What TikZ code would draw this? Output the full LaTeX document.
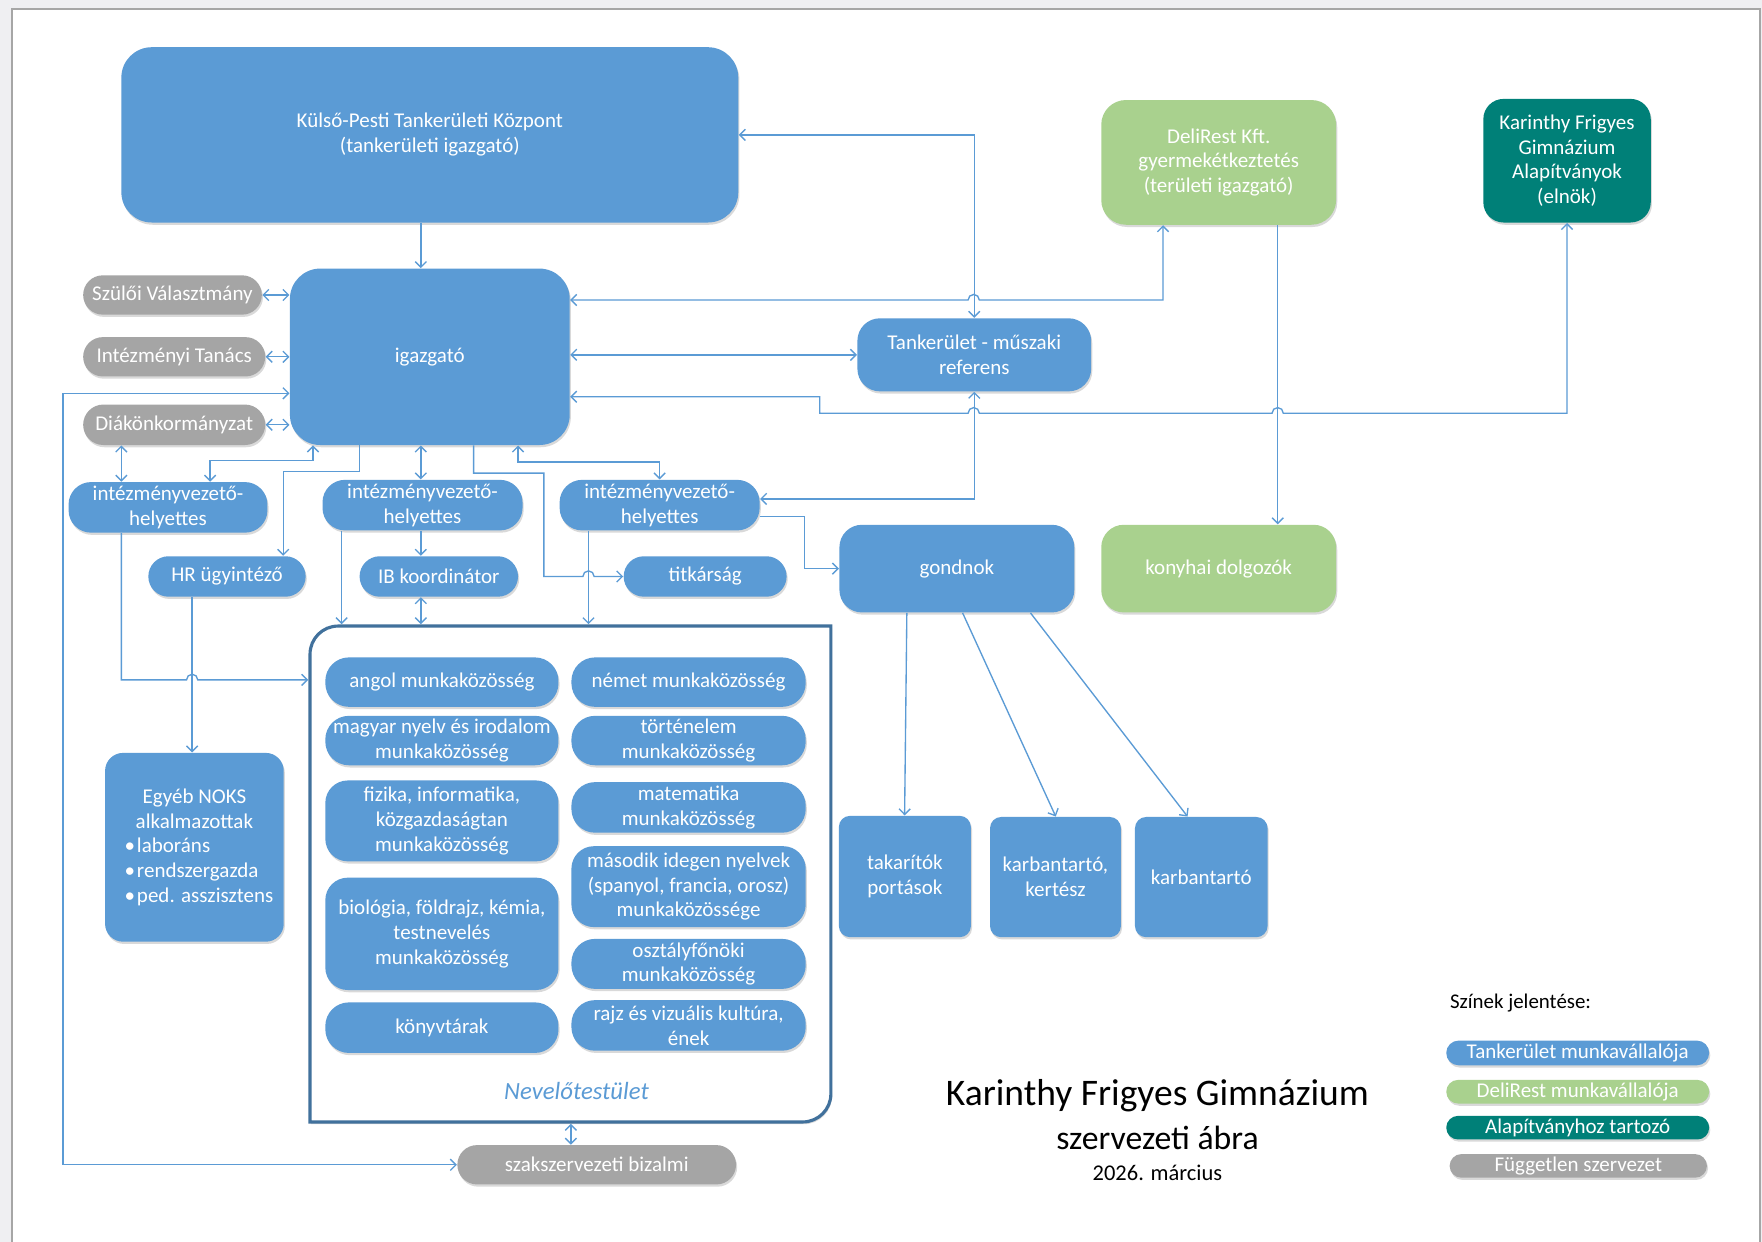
\documentclass[tikz,border=0pt]{standalone}
\usepackage{fontspec}
\setmainfont{Carlito}
\usetikzlibrary{arrows.meta,shadows}
\definecolor{tblue}{HTML}{5B9BD5}
\definecolor{tgreen}{HTML}{A9D18E}
\definecolor{tteal}{HTML}{008078}
\definecolor{tgray}{HTML}{A5A5A5}
\definecolor{tframe}{HTML}{41719C}
\definecolor{pagebg}{HTML}{EFEFF2}
\begin{document}
\begin{tikzpicture}[x=0.5pt,y=-0.5pt,
  wh/.style 2 args={minimum width=#1*0.5pt, minimum height=#2*0.5pt},
  box/.style={rectangle, inner sep=0pt, text=white, align=center,
    font=\fontsize{9.35pt}{11pt}\selectfont,
    drop shadow={shadow xshift=0.5pt, shadow yshift=-1pt, opacity=0.15, fill=black}},
  bluebox/.style={box, fill=tblue},
  greenbox/.style={box, fill=tgreen},
  tealbox/.style={box, fill=tteal},
  graybox/.style={box, fill=tgray},
  conn/.style={draw=tblue, line width=0.6pt},
  arr/.style={conn, -{Straight Barb[length=2.5pt,width=5pt]}},
  darr/.style={conn, {Straight Barb[length=2.5pt,width=5pt]}-{Straight Barb[length=2.5pt,width=5pt]}},
]
\useasboundingbox (0,0) rectangle (1568,1105);
% page
\fill[pagebg] (0,0) rectangle (1568,1105);
\fill[white] (10.4,8.3) rectangle (1566,1105);
\draw[gray!70, line width=0.8pt] (10.4,1105) -- (10.4,8.3) -- (1566,8.3) -- (1566,1105);

% top level
\node[bluebox, wh={549}{156}, rounded corners=13.5pt] (kp) at (382.5,120) {Külső-Pesti Tankerületi Központ\\(tankerületi igazgató)};
\node[greenbox, wh={209}{111}, rounded corners=11pt] (deli) at (1084.5,144.5) {DeliRest Kft.\\gyermekétkeztetés\\(területi igazgató)};
\node[tealbox, wh={149}{110}, rounded corners=9pt] (alap) at (1394.5,143) {Karinthy Frigyes\\Gimnázium\\Alapítványok\\(elnök)};

\node[graybox, wh={159}{35}, rounded corners=8.75pt] (szulo) at (153.5,262.5) {Szülői Választmány};
\node[graybox, wh={162}{35}, rounded corners=8.75pt] (intez) at (155,317.5) {Intézményi Tanács};
\node[graybox, wh={162}{36}, rounded corners=9pt] (diak) at (155,378) {Diákönkormányzat};

\node[bluebox, wh={249}{157}, rounded corners=13.5pt] (ig) at (382.5,317.5) {igazgató};
\node[bluebox, wh={208}{65}, rounded corners=10pt] (musz) at (867,315.75) {Tankerület - műszaki\\referens};

\node[bluebox, wh={177}{45}, rounded corners=10pt] (iv1) at (149.5,451.5) {intézményvezető-\\helyettes};
\node[bluebox, wh={178}{45}, rounded corners=10pt] (iv2) at (376,449.5) {intézményvezető-\\helyettes};
\node[bluebox, wh={178}{45}, rounded corners=10pt] (iv3) at (587,449.5) {intézményvezető-\\helyettes};

\node[bluebox, wh={140}{36}, rounded corners=9pt] (hr) at (202,513) {HR ügyintéző};
\node[bluebox, wh={141}{36}, rounded corners=9pt] (ib) at (390.5,513) {IB koordinátor};
\node[bluebox, wh={145}{36}, rounded corners=9pt] (titk) at (627.5,513) {titkárság};

\node[bluebox, wh={209}{78}, rounded corners=10pt] (gond) at (851.5,506) {gondnok};
\node[greenbox, wh={209}{78}, rounded corners=10pt] (konyha) at (1084.5,506) {konyhai dolgozók};

% Nevelotestulet frame
\node[inner sep=0pt, wh={462.7}{440.5}] (nev) at (507.65,777.75) {};
\draw[tframe, fill=white, line width=1.4pt, drop shadow={shadow xshift=0.5pt, shadow yshift=-1pt, opacity=0.15, fill=black}]
  (nev.south west) -- ([yshift=-12.5pt]nev.north west)
  arc[start angle=180, end angle=90, radius=12.5pt]
  -- (nev.north east) -- ([yshift=12.5pt]nev.south east)
  arc[start angle=0, end angle=-90, radius=12.5pt] -- cycle;
\node[text=tblue, font=\fontsize{11pt}{13pt}\selectfont\itshape] (nevlab) at (513,971) {Nevelőtestület};

% inner boxes
\node[bluebox, wh={207.5}{44}, rounded corners=10.5pt] (angol) at (393.25,607) {angol munkaközösség};
\node[bluebox, wh={207.5}{44}, rounded corners=10.5pt] (magyar) at (393.25,659) {magyar nyelv és irodalom\\munkaközösség};
\node[bluebox, wh={207.5}{72}, rounded corners=10pt] (fiz) at (393.25,730.5) {fizika, informatika,\\közgazdaságtan\\munkaközösség};
\node[bluebox, wh={207.5}{100}, rounded corners=10pt] (bio) at (393.25,831) {biológia, földrajz, kémia,\\testnevelés\\munkaközösség};
\node[bluebox, wh={207.5}{45}, rounded corners=10.5pt] (konyv) at (393.25,914.5) {könyvtárak};

\node[bluebox, wh={208.5}{44}, rounded corners=10.5pt] (nemet) at (612.75,607) {német munkaközösség};
\node[bluebox, wh={208.5}{44}, rounded corners=10.5pt] (tort) at (612.75,659) {történelem\\munkaközösség};
\node[bluebox, wh={208.5}{45}, rounded corners=10.5pt] (mat) at (612.75,718.5) {matematika\\munkaközösség};
\node[bluebox, wh={208.5}{72}, rounded corners=10pt] (masod) at (612.75,789) {második idegen nyelvek\\(spanyol, francia, orosz)\\munkaközössége};
\node[bluebox, wh={208.5}{44.5}, rounded corners=10.5pt] (oszt) at (612.75,857.75) {osztályfőnöki\\munkaközösség};
\node[bluebox, wh={208.5}{45}, rounded corners=10.5pt] (rajz) at (612.75,912.5) {rajz és vizuális kultúra,\\ének};

% NOKS
\node[bluebox, wh={159}{168}, rounded corners=8pt] (noks) at (173,754)
  {\begin{minipage}{76pt}\centering Egyéb NOKS\\alkalmazottak\par\raggedright\leftskip=7pt
   \mbox{•\hspace{0.8pt}laboráns}\\\mbox{•\hspace{0.8pt}rendszergazda}\\\mbox{•\hspace{0.8pt}ped. asszisztens}\end{minipage}};

% gondnok children
\node[bluebox, wh={117.5}{108}, rounded corners=5pt] (tak) at (805.25,780) {takarítók\\portások};
\node[bluebox, wh={116.5}{107}, rounded corners=5pt] (kk) at (939.25,780.5) {karbantartó,\\kertész};
\node[bluebox, wh={118}{107}, rounded corners=5pt] (karb) at (1069,780.5) {karbantartó};

\node[graybox, wh={248}{35}, rounded corners=8.75pt] (szak) at (531,1036.5) {szakszervezeti bizalmi};

% title
\node[font=\fontsize{16.7pt}{20pt}\selectfont] (t1) at (1030,975) {Karinthy Frigyes Gimnázium};
\node[font=\fontsize{15pt}{18pt}\selectfont] (t2) at (1030,1013) {szervezeti ábra};
\node[font=\fontsize{10pt}{12pt}\selectfont] (t3) at (1030,1044) {2026. március};

% legend
\node[font=\fontsize{9.3pt}{11pt}\selectfont, anchor=west, inner sep=0pt] (lt) at (1290,893) {Színek jelentése:};
\node[bluebox, wh={234}{22}, rounded corners=5.5pt] (l1) at (1404,937) {Tankerület munkavállalója};
\node[greenbox, wh={234}{21}, rounded corners=5.25pt] (l2) at (1404,971.5) {DeliRest munkavállalója};
\node[tealbox, wh={234}{21}, rounded corners=5.25pt] (l3) at (1404,1003.5) {Alapítványhoz tartozó};
\node[graybox, wh={229}{21}, rounded corners=5.25pt] (l4) at (1404.5,1037.5) {Független szervezet};

% ---------- connectors ----------
\draw[arr] (kp.south -| 374.5,0) -- (ig.north -| 374.5,0);
\draw[darr] (kp.east) -- (kp.east -| musz.north) -- (musz.north);
\draw[darr] (ig.east |- 0,267) -- (861.5,267) arc[start angle=180,end angle=0,radius=2.5pt] -- (1035,267) -- (deli.south -| 1035,0);
\draw[darr] (ig.east |- musz.west) -- (musz.west);
\draw[darr] (ig.east |- 0,353) -- (729.5,353) -- (729.5,367.7) -- (861.5,367.7)
  arc[start angle=180,end angle=0,radius=2.5pt] -- (1132,367.7)
  arc[start angle=180,end angle=0,radius=2.5pt] -- (alap.south |- 0,367.7) -- (alap.south);
\draw[arr] (deli.south -| 1137,0) -- (konyha.north -| 1137,0);
\draw[darr] (musz.south) -- (musz.south |- 0,444) -- (iv3.east |- 0,444);

\draw[darr] (szulo.east) -- (szulo.east -| ig.west);
\draw[darr] (intez.east) -- (intez.east -| ig.west);
\draw[darr] (diak.east) -- (diak.east -| ig.west);
\draw[darr] (ig.west |- 0,350) -- (56,350) -- (56,1036.5) -- (szak.west);

\draw[darr] (ig.south -| 278.5,0) -- (278.5,410) -- (187,410) -- (iv1.north -| 187,0);
\draw[arr] (ig.south -| 320,0) -- (320,419.6) -- (252,419.6) -- (hr.north -| 252,0);
\draw[darr] (ig.south -| 374.5,0) -- (iv2.north -| 374.5,0);
\draw[arr] (ig.south -| 421.5,0) -- (421.5,421) -- (484,421) -- (484,513) -- (518.7,513)
  arc[start angle=180,end angle=0,radius=2.5pt] -- (titk.west);
\draw[darr] (ig.south -| 461,0) -- (461,411) -- (iv3.north |- 0,411) -- (iv3.north);
\draw[darr] (diak.south -| 108,0) -- (iv1.north -| 108,0);

\draw[arr, shorten >=0.8pt] (iv1.south -| 108,0) -- (108,605) -- (166,605)
  arc[start angle=180,end angle=0,radius=2.5pt] -- (nev.west |- 0,605);
\draw[arr] (hr.south -| 171,0) -- (noks.north -| 171,0);
\draw[arr, shorten >=0.8pt] (iv2.south -| 304,0) -- (nev.north -| 304,0);
\draw[arr] (iv2.south -| 374.5,0) -- (ib.north -| 374.5,0);
\draw[darr, shorten >=0.8pt] (ib.south -| 374.5,0) -- (nev.north -| 374.5,0);
\draw[arr, shorten >=0.8pt] (iv3.south -| 523.7,0) -- (nev.north -| 523.7,0);
\draw[arr] (iv3.east |- 0,459.7) -- (716,459.7) -- (716,506) -- (gond.west);
\draw[darr, shorten <=0.8pt] (nev.south -| 508,0) -- (szak.north -| 508,0);

\draw[arr] (gond.south -| 807,0) -- (tak.north -| 805,0);
\draw[arr] (gond.south -| 856.6,0) -- (kk.north -| 939.5,0);
\draw[arr] (gond.south -| 917,0) -- (karb.north -| 1056.8,0);
\end{tikzpicture}
\end{document}
